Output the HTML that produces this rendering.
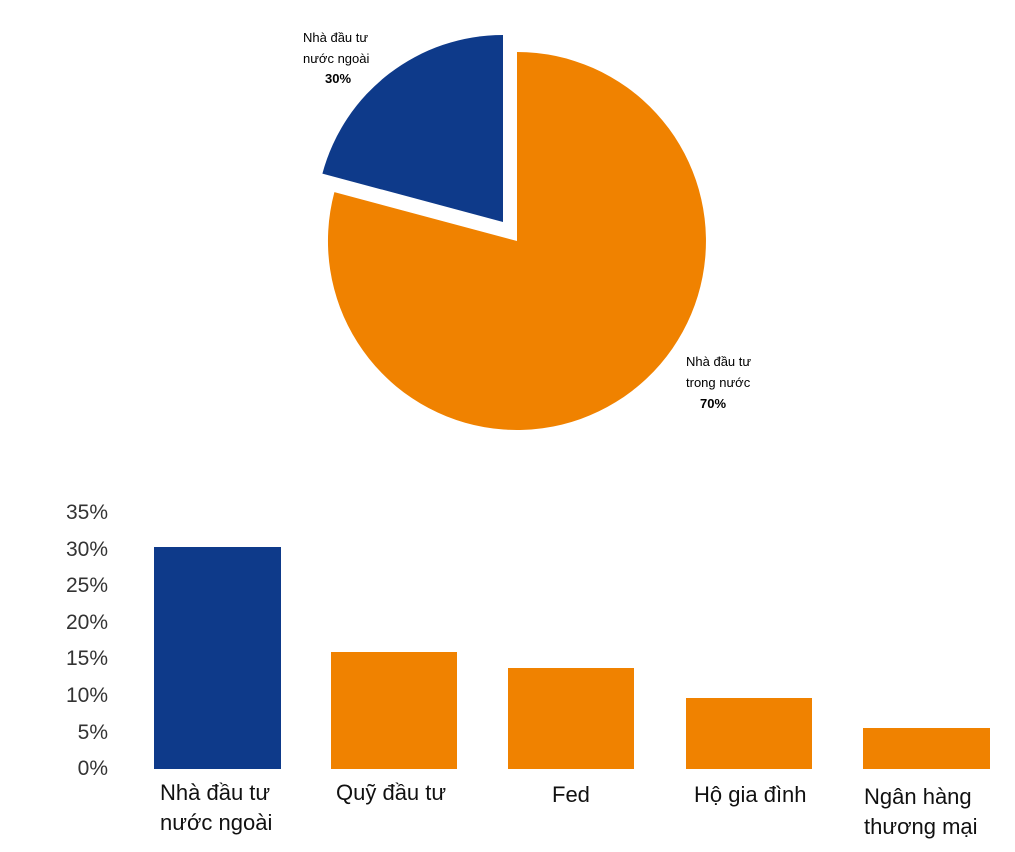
<!DOCTYPE html>
<html><head><meta charset="utf-8"><style>
body{margin:0;background:#fff;}
svg{display:block;}
text{font-family:"Liberation Sans","DejaVu Sans",sans-serif;}
</style></head><body>
<svg width="1015" height="852" viewBox="0 0 1015 852">
<path d="M517,241 L517,52 A189,189 0 1 1 334.4,192.1 Z" fill="#F08200"/>
<path d="M503,222 L322.4,173.6 A187,187 0 0 1 503,35 Z" fill="#0E3A8A"/>
<g font-size="13" fill="#000">
<text x="303" y="42">Nhà đầu tư</text>
<text x="303" y="63">nước ngoài</text>
<text x="325" y="83" font-weight="bold">30%</text>
<text x="686" y="366">Nhà đầu tư</text>
<text x="686" y="387">trong nước</text>
<text x="700" y="408" font-weight="bold">70%</text>
</g>
<g font-size="21" fill="#333" text-anchor="end">
<text x="108" y="775">0%</text>
<text x="108" y="739">5%</text>
<text x="108" y="702">10%</text>
<text x="108" y="665">15%</text>
<text x="108" y="629">20%</text>
<text x="108" y="592">25%</text>
<text x="108" y="556">30%</text>
<text x="108" y="519">35%</text>
</g>
<rect x="154" y="547" width="127" height="222" fill="#0E3A8A"/>
<rect x="331" y="652" width="126" height="117" fill="#F08200"/>
<rect x="508" y="668" width="126" height="101" fill="#F08200"/>
<rect x="686" y="698" width="126" height="71" fill="#F08200"/>
<rect x="863" y="728" width="127" height="41" fill="#F08200"/>
<g font-size="22" fill="#111">
<text x="160" y="800">Nhà đầu tư</text>
<text x="160" y="830">nước ngoài</text>
<text x="336" y="800">Quỹ đầu tư</text>
<text x="552" y="802">Fed</text>
<text x="694" y="802">Hộ gia đình</text>
<text x="864" y="804">Ngân hàng</text>
<text x="864" y="834">thương mại</text>
</g>
</svg>
</body></html>
